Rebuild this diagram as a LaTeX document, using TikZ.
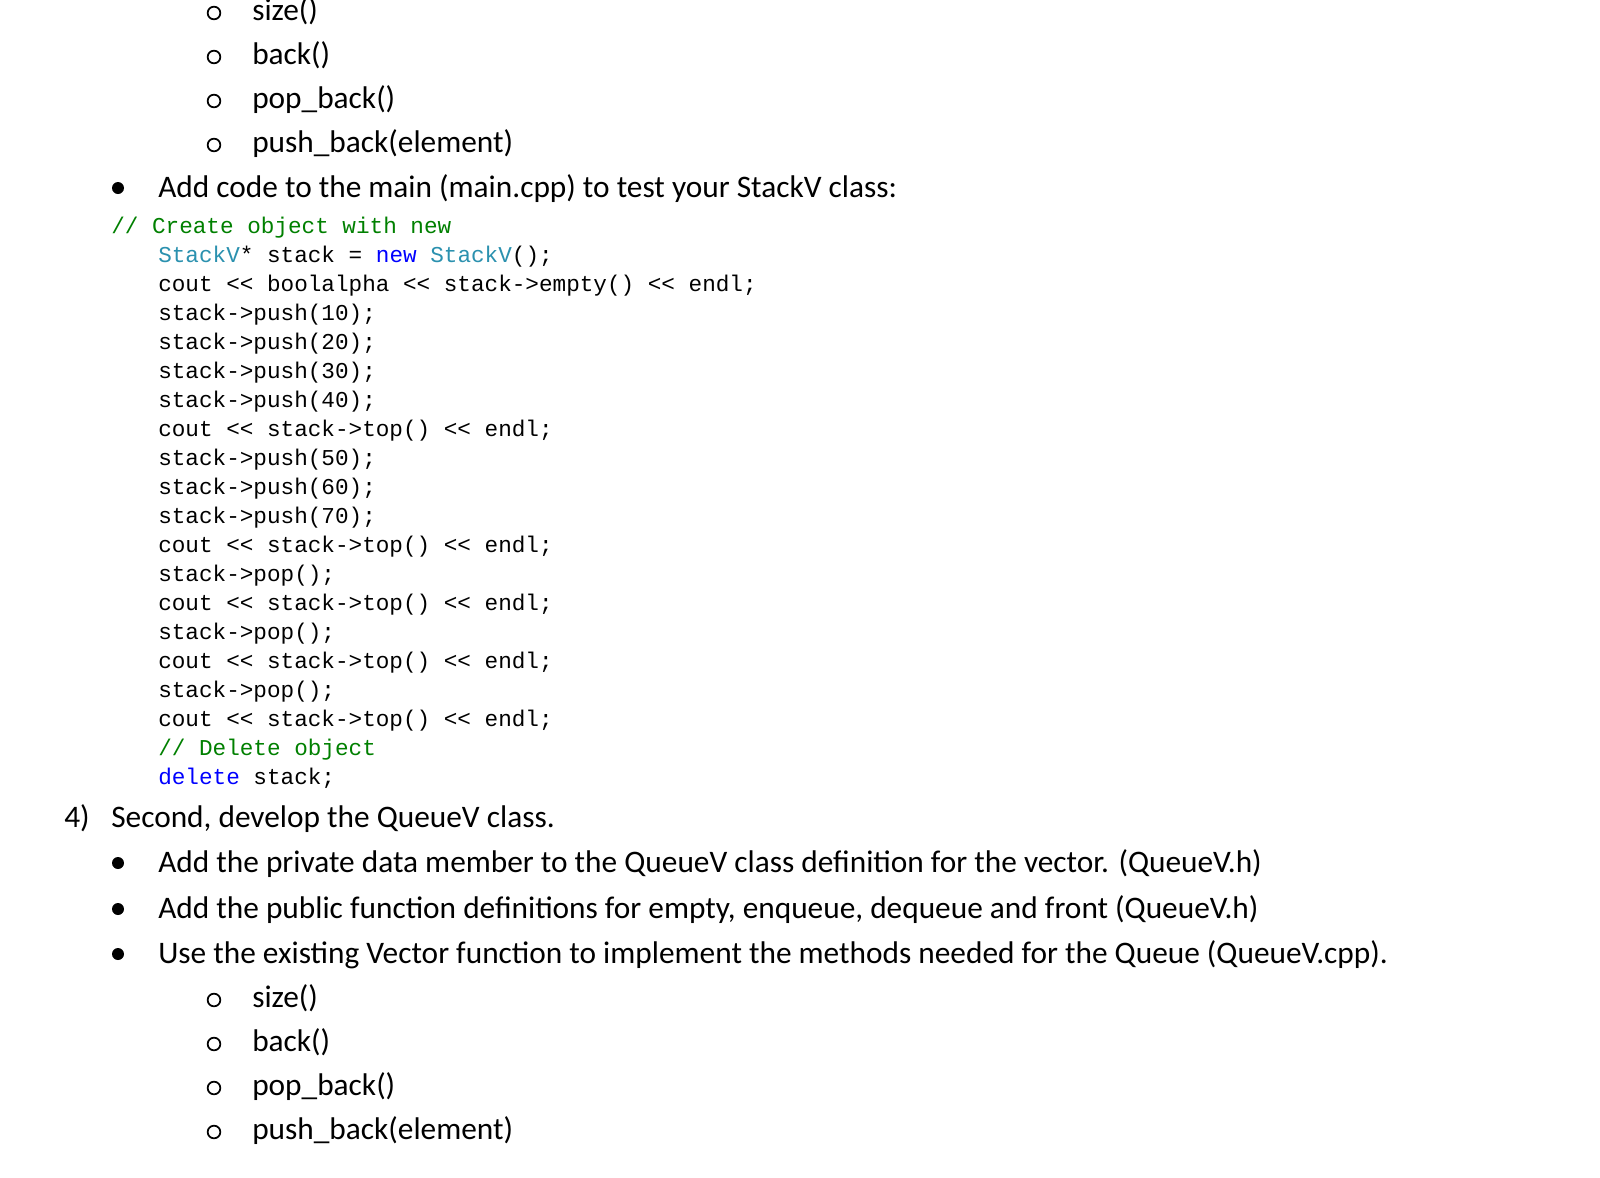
\documentclass[tikz,border=0pt]{standalone}
\usepackage{fontspec}
\setmainfont{Carlito}
\setmonofont{Liberation Mono}
\definecolor{cgreen}{RGB}{0,128,0}
\definecolor{ckw}{RGB}{0,0,255}
\definecolor{ccls}{RGB}{43,145,175}
\begin{document}
\begin{tikzpicture}[x=0.75pt,y=-0.75pt,
  txt/.style={anchor=base west,inner sep=0pt,font=\fontsize{23.5}{26}\selectfont},
  cd/.style={anchor=base west,inner sep=0pt,font=\ttfamily\fontsize{17}{20}\selectfont},
  circ/.style={circle,draw=black,line width=1.3pt,inner sep=0pt,minimum size=9.5pt},
  dot/.style={circle,fill=black,inner sep=0pt,minimum size=9pt}]
\fill[white] (0,0) rectangle (1600,1178);
\useasboundingbox (0,0) rectangle (1600,1178);
\foreach \y/\t [count=\i] in {20/size(),64/back(),108/pop\_back(),152/push\_back(element)}{
  \node[circ] (ca\i) at (214,\y-7) {};
  \node[txt] (ta\i) at (252,\y) {\t};
}
\node[dot] (b1) at (118,188) {};
\node[txt] (t1) at (158,197) {Add code to the main (main.cpp) to test your StackV class:};
\node[cd] (c0) at (111,233) {\color{cgreen}// Create object with new};
\node[cd] (c1) at (158,262) {\textcolor{ccls}{StackV}* stack = \textcolor{ckw}{new} \textcolor{ccls}{StackV}();};
\node[cd] (c2) at (158,291) {cout << boolalpha << stack->empty() << endl;};
\node[cd] (c3) at (158,320) {stack->push(10);};
\node[cd] (c4) at (158,349) {stack->push(20);};
\node[cd] (c5) at (158,378) {stack->push(30);};
\node[cd] (c6) at (158,407) {stack->push(40);};
\node[cd] (c7) at (158,436) {cout << stack->top() << endl;};
\node[cd] (c8) at (158,465) {stack->push(50);};
\node[cd] (c9) at (158,494) {stack->push(60);};
\node[cd] (c10) at (158,523) {stack->push(70);};
\node[cd] (c11) at (158,552) {cout << stack->top() << endl;};
\node[cd] (c12) at (158,581) {stack->pop();};
\node[cd] (c13) at (158,610) {cout << stack->top() << endl;};
\node[cd] (c14) at (158,639) {stack->pop();};
\node[cd] (c15) at (158,668) {cout << stack->top() << endl;};
\node[cd] (c16) at (158,697) {stack->pop();};
\node[cd] (c17) at (158,726) {cout << stack->top() << endl;};
\node[cd] (c18) at (158,755) {\textcolor{cgreen}{// Delete object}};
\node[cd] (c19) at (158,784) {\textcolor{ckw}{delete} stack;};
\node[txt] (n4) at (64,827) {4)};
\node[txt] (h4) at (111,827) {Second, develop the QueueV class.};
\node[dot] (b2) at (118,863) {};
\node[txt] (t2) at (158,872) {Add the private data member to the QueueV class definition for the vector. (QueueV.h)};
\node[dot] (b3) at (118,909) {};
\node[txt] (t3) at (158,918) {Add the public function definitions for empty, enqueue, dequeue and front (QueueV.h)};
\node[dot] (b4) at (118,954) {};
\node[txt] (t4) at (158,963) {Use the existing Vector function to implement the methods needed for the Queue (QueueV.cpp).};
\foreach \y/\t [count=\i] in {1007/size(),1051/back(),1095/pop\_back(),1139/push\_back(element)}{
  \node[circ] (cb\i) at (214,\y-7) {};
  \node[txt] (tb\i) at (252,\y) {\t};
}
\end{tikzpicture}
\end{document}
